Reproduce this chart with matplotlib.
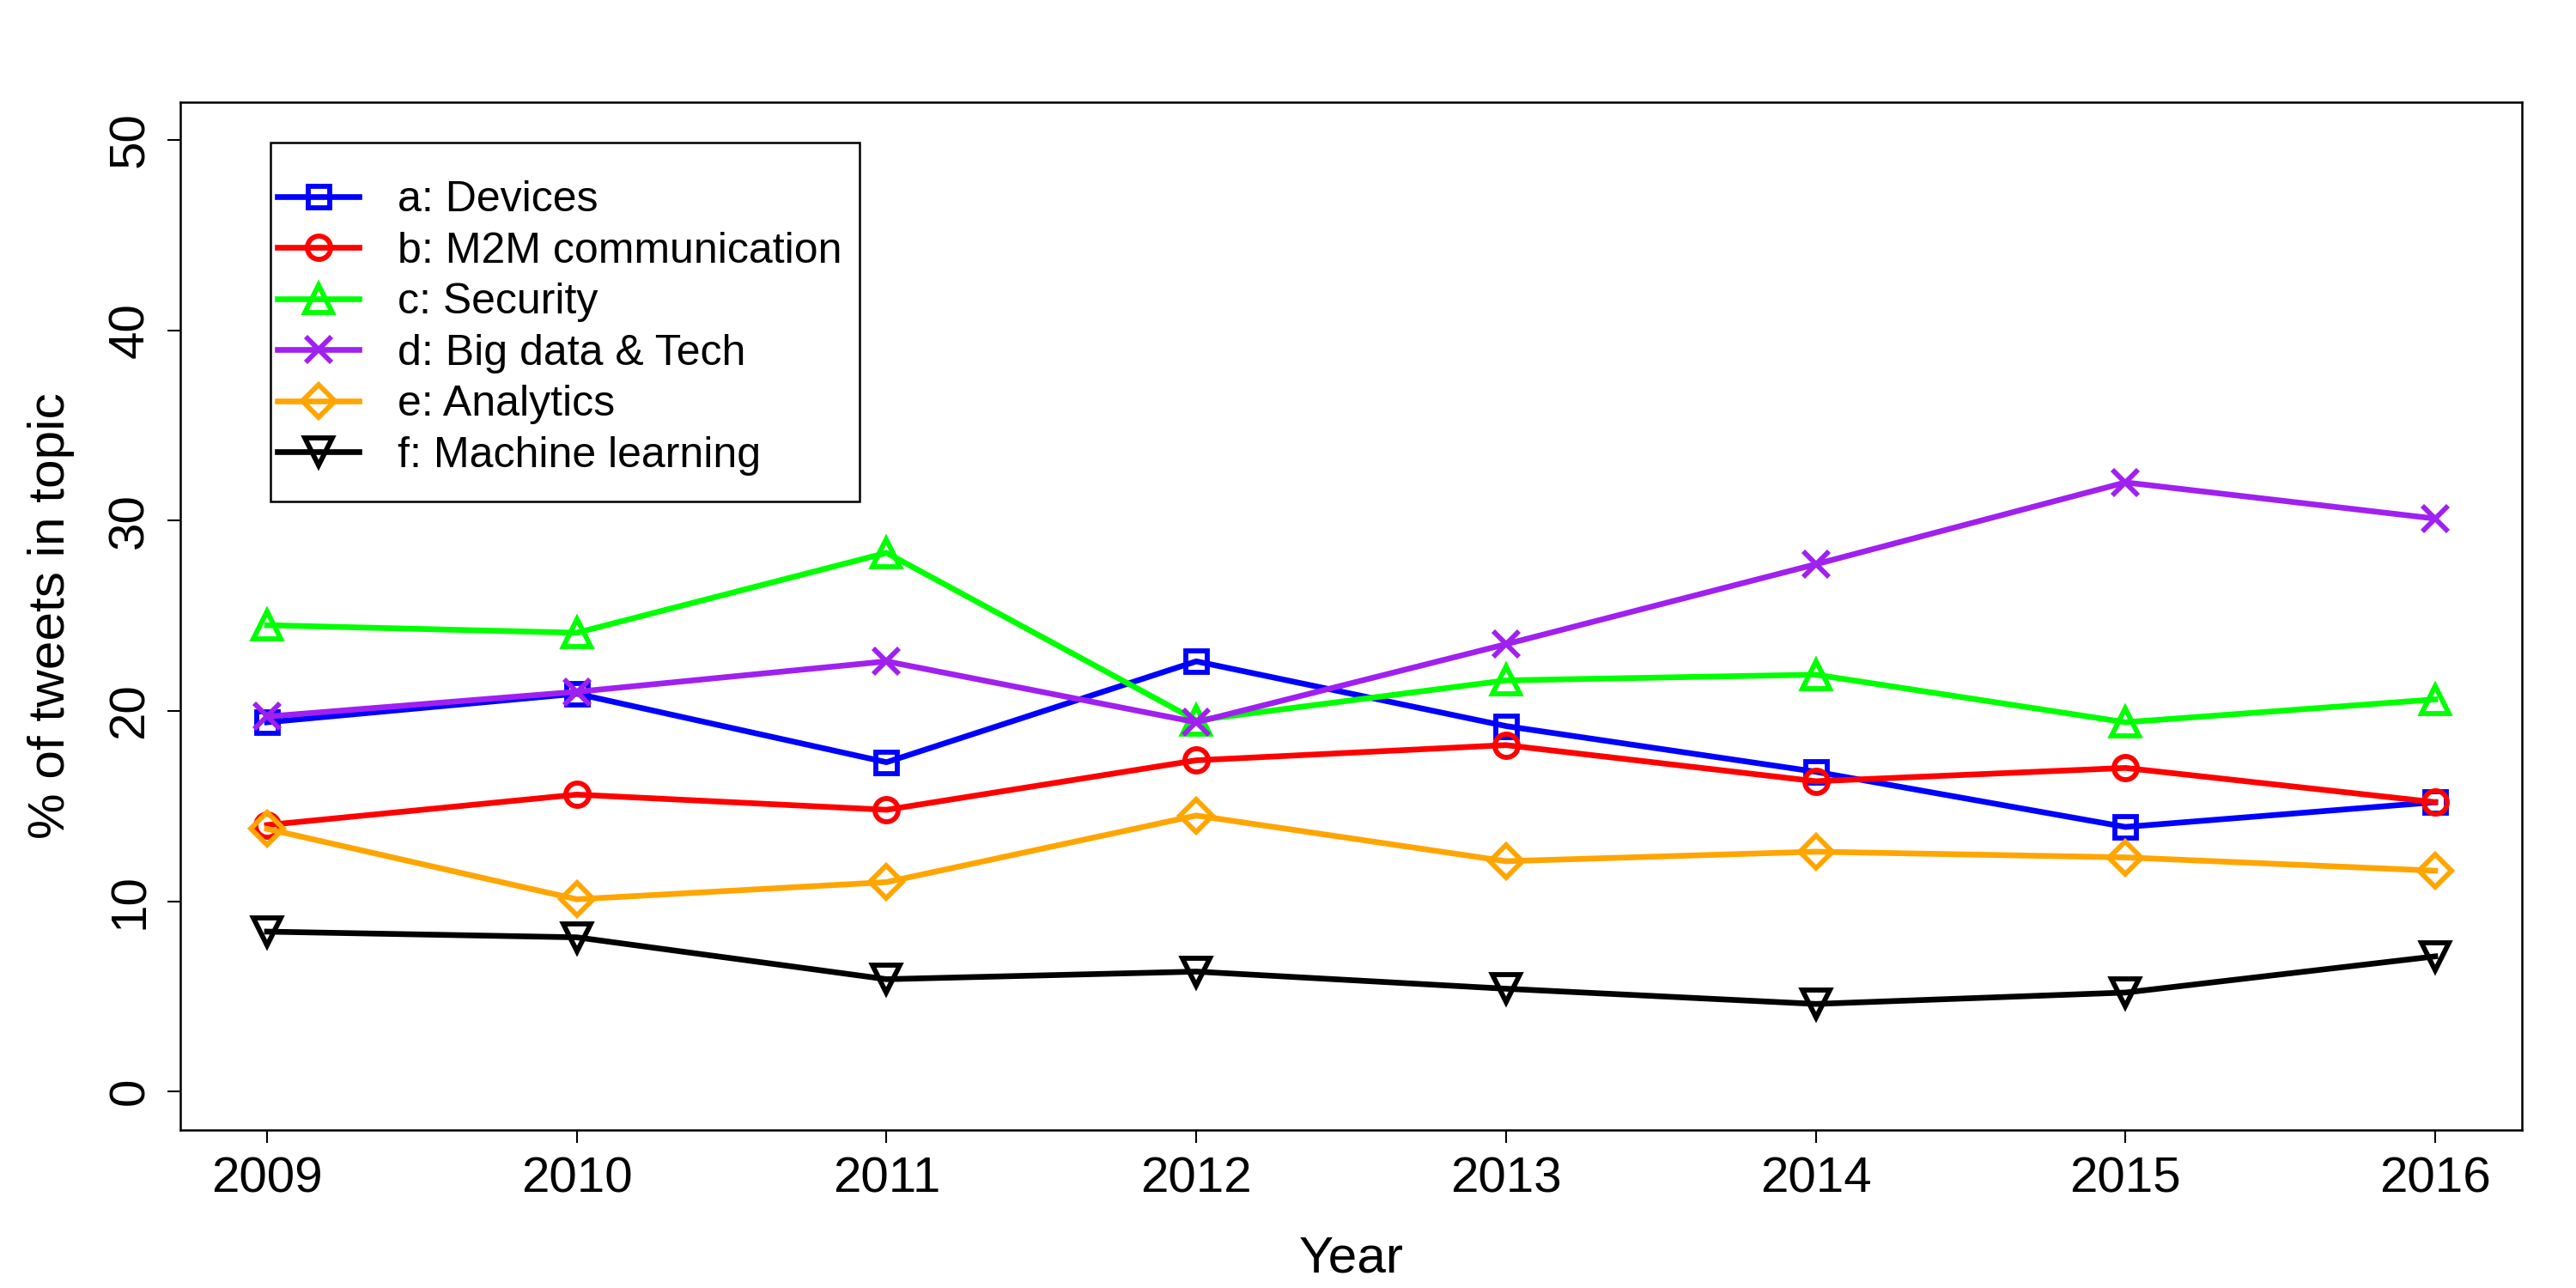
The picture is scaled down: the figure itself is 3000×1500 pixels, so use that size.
import matplotlib
matplotlib.use("Agg")
import matplotlib.pyplot as plt
from matplotlib.patches import Rectangle

plt.rcParams['font.family'] = ['Liberation Sans', 'DejaVu Sans']

years = [2009, 2010, 2011, 2012, 2013, 2014, 2015, 2016]

devices = [19.4, 20.9, 17.3, 22.6, 19.2, 16.8, 13.9, 15.2]
m2m = [14.0, 15.6, 14.8, 17.4, 18.2, 16.3, 17.0, 15.2]
security = [24.5, 24.1, 28.3, 19.5, 21.6, 21.9, 19.4, 20.6]
bigdata = [19.7, 21.0, 22.6, 19.4, 23.5, 27.7, 32.0, 30.1]
analytics = [13.8, 10.1, 11.0, 14.5, 12.1, 12.6, 12.3, 11.6]
machine_learning = [8.4, 8.1, 5.9, 6.3, 5.4, 4.6, 5.2, 7.1]

labels = ['a: Devices', 'b: M2M communication', 'c: Security',
          'd: Big data & Tech', 'e: Analytics', 'f: Machine learning']
colors = ['#0000FF', '#FF0000', '#00FF00', '#A020F0', '#FFA500', '#000000']
markers = ['s', 'o', '^', 'x', 'D', 'v']
msizes = [12, 13, 15, 14, 13, 15]

series = [devices, m2m, security, bigdata, analytics, machine_learning]

fig = plt.figure(figsize=(20, 10), dpi=150)
ax = fig.add_axes([0.070, 0.123, 0.909, 0.798])

for vals, lab, c, m, ms in zip(series, labels, colors, markers, msizes):
    ax.plot(years, vals, color=c, lw=3.2, marker=m, markersize=ms,
            markerfacecolor='none', markeredgecolor=c, markeredgewidth=2.8,
            label=lab)

ax.set_xlim(2008.72, 2016.28)
ax.set_ylim(-2, 52)
ax.set_xticks(years)
ax.set_yticks([0, 10, 20, 30, 40, 50])
ax.tick_params(axis='both', direction='out', length=7, width=1, labelsize=28, pad=8)
for lbl in ax.get_yticklabels():
    lbl.set_rotation(90)
    lbl.set_va('center')
for sp in ax.spines.values():
    sp.set_linewidth(1.2)

ax.set_xlabel('Year', fontsize=29, labelpad=18)
ax.set_ylabel('% of tweets in topic', fontsize=29, labelpad=18)

# legend without its own frame, R style box drawn around it afterwards
leg = ax.legend(loc='upper left', bbox_to_anchor=(0.1077, 0.8597),
                bbox_transform=fig.transFigure, borderaxespad=0, borderpad=0,
                fontsize=24, frameon=False,
                handlelength=1.9, handletextpad=0.9, labelspacing=0.27)
fig.canvas.draw()
bb = leg.get_window_extent()
x0, y0 = bb.x0 - 8, bb.y0 - 30
w, h = bb.width + 8 + 20, bb.height + 30 + 44
fw, fh = fig.get_size_inches() * fig.dpi
fig.patches.append(Rectangle((x0 / fw, y0 / fh), w / fw, h / fh,
                             transform=fig.transFigure, fill=False,
                             edgecolor='black', linewidth=1.2, zorder=5))

fig.savefig('out.png', dpi=150)
